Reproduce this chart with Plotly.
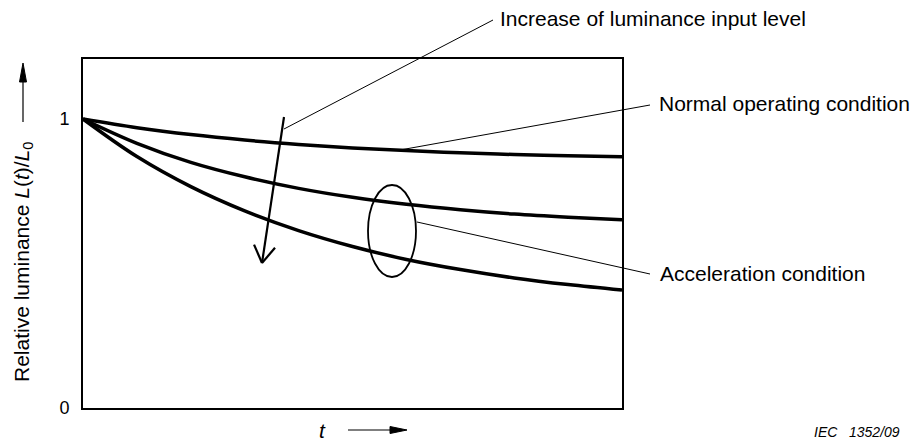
import math
import plotly.graph_objects as go

# Relative luminance L(t)/L0 versus time t (normalised), three stress levels
t_values = [0.0, 0.1, 0.2, 0.3, 0.4, 0.5, 0.6, 0.7, 0.8, 0.9, 1.0]
normal_condition = [1.0, 0.970, 0.946, 0.927, 0.912, 0.900, 0.891, 0.883, 0.877, 0.873, 0.869]
accel_medium = [1.0, 0.916, 0.850, 0.800, 0.760, 0.729, 0.705, 0.686, 0.671, 0.660, 0.651]
accel_high = [1.0, 0.870, 0.766, 0.682, 0.614, 0.559, 0.514, 0.479, 0.450, 0.427, 0.408]
y_tick_vals = [0, 1]
y_tick_text = ["0", "1"]

W, H = 916, 441
L, R, T, B = 83, 622, 59, 408          # plot area in pixels
Y_ONE = 119                            # pixel row of L/L0 = 1
y_top = (B - T) / (B - Y_ONE)

FONT = "Arial, Liberation Sans, sans-serif"
LABEL_SIZE = 21


def px(x):
    return (x - L) / (R - L)


def py(y):
    return (B - y) / (B - T)


fig = go.Figure()
for series in (normal_condition, accel_medium, accel_high):
    fig.add_trace(go.Scatter(
        x=t_values, y=series, mode="lines",
        line=dict(color="black", width=3.5, shape="spline", smoothing=1.0),
        showlegend=False, hoverinfo="skip"))

shapes = []


def seg(x0, y0, x1, y1, w=1.0):
    shapes.append(dict(type="line", xref="paper", yref="paper",
                       x0=px(x0), y0=py(y0), x1=px(x1), y1=py(y1),
                       line=dict(color="black", width=w)))


def tri(points):
    path = "M " + " L ".join(f"{px(a)},{py(b)}" for a, b in points) + " Z"
    shapes.append(dict(type="path", xref="paper", yref="paper", path=path,
                       fillcolor="black", line=dict(color="black", width=1)))


# leader lines
seg(284, 129, 493, 20)
seg(400, 150, 650, 105)
seg(417, 222, 650, 274)

# ellipse grouping the acceleration curves
shapes.append(dict(type="circle", xref="paper", yref="paper",
                   x0=px(368), x1=px(416), y0=py(277), y1=py(185),
                   line=dict(color="black", width=1.8)))

# arrow: increase of luminance input level
tail = (284, 117)
tip = (262, 263)
seg(tail[0], tail[1], tip[0], tip[1], w=2.2)
dx, dy = tail[0] - tip[0], tail[1] - tip[1]
n = math.hypot(dx, dy)
ux, uy = dx / n, dy / n
for ang in (math.radians(32), -math.radians(32)):
    rx = ux * math.cos(ang) - uy * math.sin(ang)
    ry = ux * math.sin(ang) + uy * math.cos(ang)
    seg(tip[0], tip[1], tip[0] + 20 * rx, tip[1] + 20 * ry, w=2.2)

# y title arrow
seg(23, 122, 23, 80, w=1.2)
tri([(19.5, 82), (26.5, 82), (23, 63)])
# t axis arrow
seg(348, 430, 392, 430, w=1.2)
tri([(390, 426.5), (390, 433.5), (407, 430)])

annotations = [
    dict(text="Increase of luminance input level", x=px(498), y=py(18),
         xanchor="left", yanchor="middle"),
    dict(text="Normal operating condition", x=px(657), y=py(103),
         xanchor="left", yanchor="middle"),
    dict(text="Acceleration condition", x=px(658), y=py(273),
         xanchor="left", yanchor="middle"),
    dict(text="Relative luminance <i>L</i>(<i>t</i>)/<i>L</i><sub>0</sub>",
         x=px(23), y=py(262), textangle=-90, xanchor="center", yanchor="middle"),
    dict(text="<i>t</i>", x=px(322), y=py(430), xanchor="center", yanchor="middle"),
    dict(text="<i>IEC   1352/09</i>", x=px(812), y=py(432), xanchor="left",
         yanchor="middle", font=dict(size=14, family=FONT, color="black")),
]
for a in annotations:
    a.update(xref="paper", yref="paper", showarrow=False)
    a.setdefault("font", dict(size=LABEL_SIZE, family=FONT, color="black"))

fig.update_layout(
    width=W, height=H,
    margin=dict(l=L, r=W - R, t=T, b=H - B, pad=0),
    paper_bgcolor="white", plot_bgcolor="white",
    shapes=shapes, annotations=annotations,
    xaxis=dict(range=[0, 1], showgrid=False, zeroline=False, showticklabels=False,
               ticks="", showline=True, mirror=True, linecolor="black", linewidth=2),
    yaxis=dict(range=[0, y_top], showgrid=False, zeroline=False,
               tickvals=y_tick_vals, ticktext=y_tick_text,
               ticks="outside", ticklen=8, tickcolor="rgba(0,0,0,0)",
               tickfont=dict(size=18, family=FONT, color="black"),
               showline=True, mirror=True, linecolor="black", linewidth=2),
)

fig.write_html("out.html")
